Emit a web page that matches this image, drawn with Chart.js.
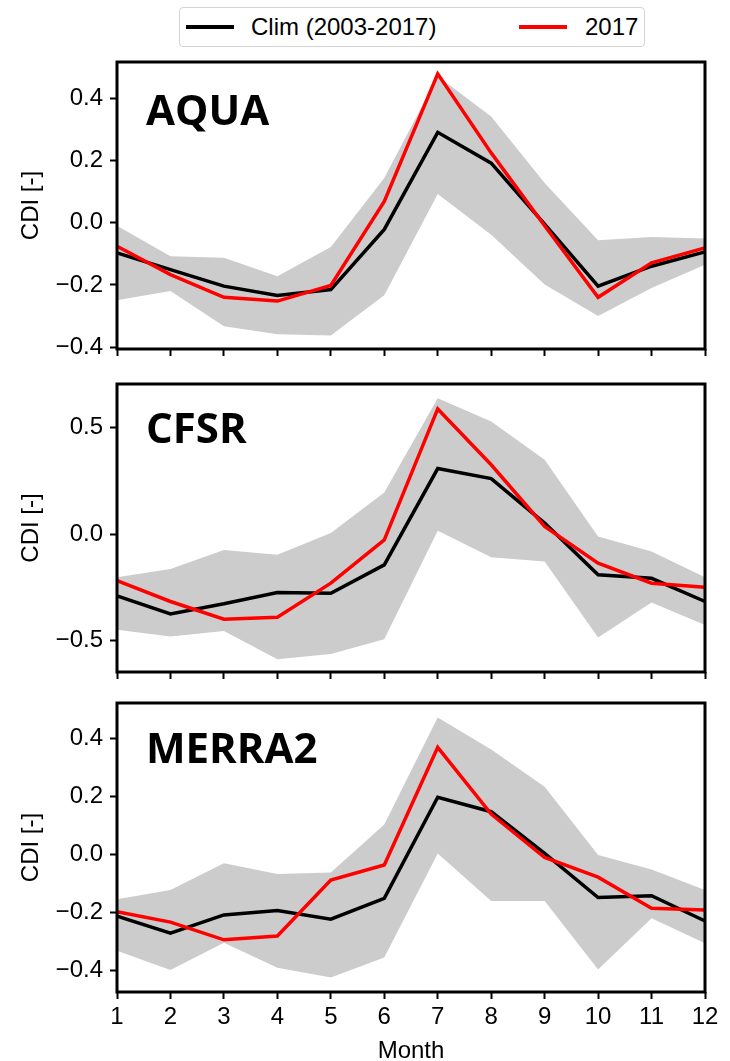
<!DOCTYPE html>
<html>
<head>
<meta charset="utf-8">
<script src="https://cdn.jsdelivr.net/npm/chart.js@4.4.1/dist/chart.umd.min.js"></script>
<style>
  body { margin: 0; background: #fff; width: 730px; height: 1061px; position: relative; overflow: hidden; }
  canvas { position: absolute; left: 0; }
  #legend { position: absolute; left: 179px; top: 7px; width: 464px; height: 38px; border: 1.5px solid #d4d4d4; border-radius: 4px;
            font-family: "Liberation Sans", Arial, sans-serif; font-size: 24px; }
  #legend .sw { position: absolute; top: 17px; height: 4px; width: 48px; }
  #legend .tx { position: absolute; top: 5px; line-height: 28px; }
</style>
</head>
<body>
<div id="legend">
  <span class="sw" style="left:6px;background:#000"></span><span class="tx" style="left:71px">Clim (2003-2017)</span>
  <span class="sw" style="left:339px;background:#f00"></span><span class="tx" style="left:405px">2017</span>
</div>
<canvas id="c-aqua" width="730" height="310" style="top:50px"></canvas>
<canvas id="c-cfsr" width="730" height="310" style="top:370px"></canvas>
<canvas id="c-merra" width="730" height="371" style="top:690px"></canvas>
<script>
'use strict';

const MONTHS = ['1', '2', '3', '4', '5', '6', '7', '8', '9', '10', '11', '12'];

// AQUA
const AQUA_CLIM  = [-0.097, -0.151, -0.204, -0.234, -0.215, -0.022, 0.290, 0.191, -0.005, -0.204, -0.140, -0.094];
const AQUA_2017  = [-0.076, -0.167, -0.240, -0.252, -0.202, 0.068, 0.478, 0.224, -0.010, -0.240, -0.129, -0.081];
const AQUA_UPPER = [-0.010, -0.108, -0.113, -0.172, -0.078, 0.143, 0.470, 0.341, 0.127, -0.057, -0.046, -0.051];
const AQUA_LOWER = [-0.249, -0.220, -0.333, -0.359, -0.363, -0.233, 0.092, -0.039, -0.199, -0.300, -0.210, -0.135];
const AQUA_TICKS = [-0.4, -0.2, 0, 0.2, 0.4];

// CFSR
const CFSR_CLIM  = [-0.290, -0.374, -0.327, -0.274, -0.277, -0.144, 0.308, 0.261, 0.052, -0.191, -0.207, -0.316];
const CFSR_2017  = [-0.218, -0.316, -0.399, -0.390, -0.230, -0.027, 0.588, 0.326, 0.036, -0.136, -0.230, -0.249];
const CFSR_UPPER = [-0.202, -0.164, -0.074, -0.097, 0.005, 0.196, 0.638, 0.529, 0.349, -0.011, -0.081, -0.202];
const CFSR_LOWER = [-0.449, -0.480, -0.454, -0.587, -0.562, -0.493, 0.016, -0.108, -0.128, -0.485, -0.321, -0.426];
const CFSR_TICKS = [-0.5, 0, 0.5];

// MERRA2
const MERRA_CLIM  = [-0.213, -0.272, -0.209, -0.194, -0.224, -0.152, 0.197, 0.147, 0.003, -0.149, -0.143, -0.230];
const MERRA_2017  = [-0.198, -0.234, -0.295, -0.282, -0.089, -0.037, 0.369, 0.139, -0.011, -0.079, -0.186, -0.192];
const MERRA_UPPER = [-0.155, -0.123, -0.031, -0.068, -0.063, 0.103, 0.472, 0.362, 0.233, -0.002, -0.052, -0.123];
const MERRA_LOWER = [-0.333, -0.399, -0.305, -0.391, -0.425, -0.356, 0.003, -0.161, -0.161, -0.397, -0.221, -0.307];
const MERRA_TICKS = [-0.4, -0.2, 0, 0.2, 0.4];

Chart.defaults.font.family = '"Liberation Sans", Arial, sans-serif';
Chart.defaults.font.size = 24;
Chart.defaults.color = '#000';

// cadre noir + nom du jeu de données dans le coin
const panelFrame = {
    id: 'panelFrame',
    afterDatasetsDraw(chart, args, opts) {
        const { ctx, chartArea: a } = chart;
        ctx.save();
        ctx.strokeStyle = '#000';
        ctx.lineWidth = 3;
        ctx.strokeRect(a.left, a.top, a.right - a.left, a.bottom - a.top);
        ctx.fillStyle = '#000';
        ctx.font = 'bold 42px "Open Sans"';
        ctx.textBaseline = 'alphabetic';
        ctx.fillText(opts.name, a.left + 29, a.top + opts.dy);
        ctx.restore();
    }
};

const fmtTick = v => (v < 0 ? '\u2212' : '') + Math.abs(v).toFixed(1);

function makePanel(id, name, dy, clim, y2017, upper, lower, ticks, yMin, yMax, padTop, xHeight, bottom) {
    return new Chart(document.getElementById(id), {
        type: 'line',
        data: {
            labels: MONTHS,
            datasets: [
                { label: '2017', data: y2017, borderColor: '#ff0000', borderWidth: 3.5, pointRadius: 0, fill: false, order: 0, tension: 0 },
                { label: 'Clim (2003-2017)', data: clim, borderColor: '#000000', borderWidth: 3.5, pointRadius: 0, fill: false, order: 1, tension: 0 },
                { label: 'upper', data: upper, borderWidth: 0, borderColor: 'rgba(0,0,0,0)', pointRadius: 0, fill: '+1', backgroundColor: '#cccccc', order: 2 },
                { label: 'lower', data: lower, borderWidth: 0, borderColor: 'rgba(0,0,0,0)', pointRadius: 0, fill: false, order: 3 }
            ]
        },
        options: {
            responsive: false,
            animation: false,
            devicePixelRatio: 1,
            layout: { padding: { top: padTop, right: 25, bottom: 0, left: 0 } },
            plugins: { legend: { display: false }, tooltip: { enabled: false }, panelFrame: { name, dy } },
            scales: {
                x: {
                    offset: false,
                    grid: { drawOnChartArea: false, drawTicks: true, tickLength: 7, tickColor: '#000', tickWidth: 2 },
                    border: { display: false },
                    ticks: { display: bottom, padding: 4, maxRotation: 0, autoSkip: false },
                    title: { display: bottom, text: 'Month', font: { lineHeight: 1 }, padding: { top: 0, bottom: -2 } },
                    afterFit: s => { s.height = xHeight; s.paddingLeft = 0; s.paddingRight = 0; }
                },
                y: {
                    min: yMin,
                    max: yMax,
                    afterBuildTicks: s => { s.ticks = ticks.map(v => ({ value: v })); },
                    grid: { drawOnChartArea: false, drawTicks: true, tickLength: 7, tickColor: '#000', tickWidth: 2 },
                    border: { display: false },
                    ticks: { padding: 7, callback: fmtTick },
                    title: { display: true, text: 'CDI [-]', padding: { top: 17, bottom: 0 } },
                    afterFit: s => { s.width = 117; s.paddingTop = 0; s.paddingBottom = 0; }
                }
            }
        },
        plugins: [panelFrame]
    });
}

makePanel('c-aqua', 'AQUA', 63, AQUA_CLIM, AQUA_2017, AQUA_UPPER, AQUA_LOWER, AQUA_TICKS, -0.406, 0.516, 12, 11, false);
makePanel('c-cfsr', 'CFSR', 59, CFSR_CLIM, CFSR_2017, CFSR_UPPER, CFSR_LOWER, CFSR_TICKS, -0.647, 0.705, 14, 8, false);
makePanel('c-merra', 'MERRA2', 60, MERRA_CLIM, MERRA_2017, MERRA_UPPER, MERRA_LOWER, MERRA_TICKS, -0.475, 0.522, 13, 69, true);
</script>
</body>
</html>
